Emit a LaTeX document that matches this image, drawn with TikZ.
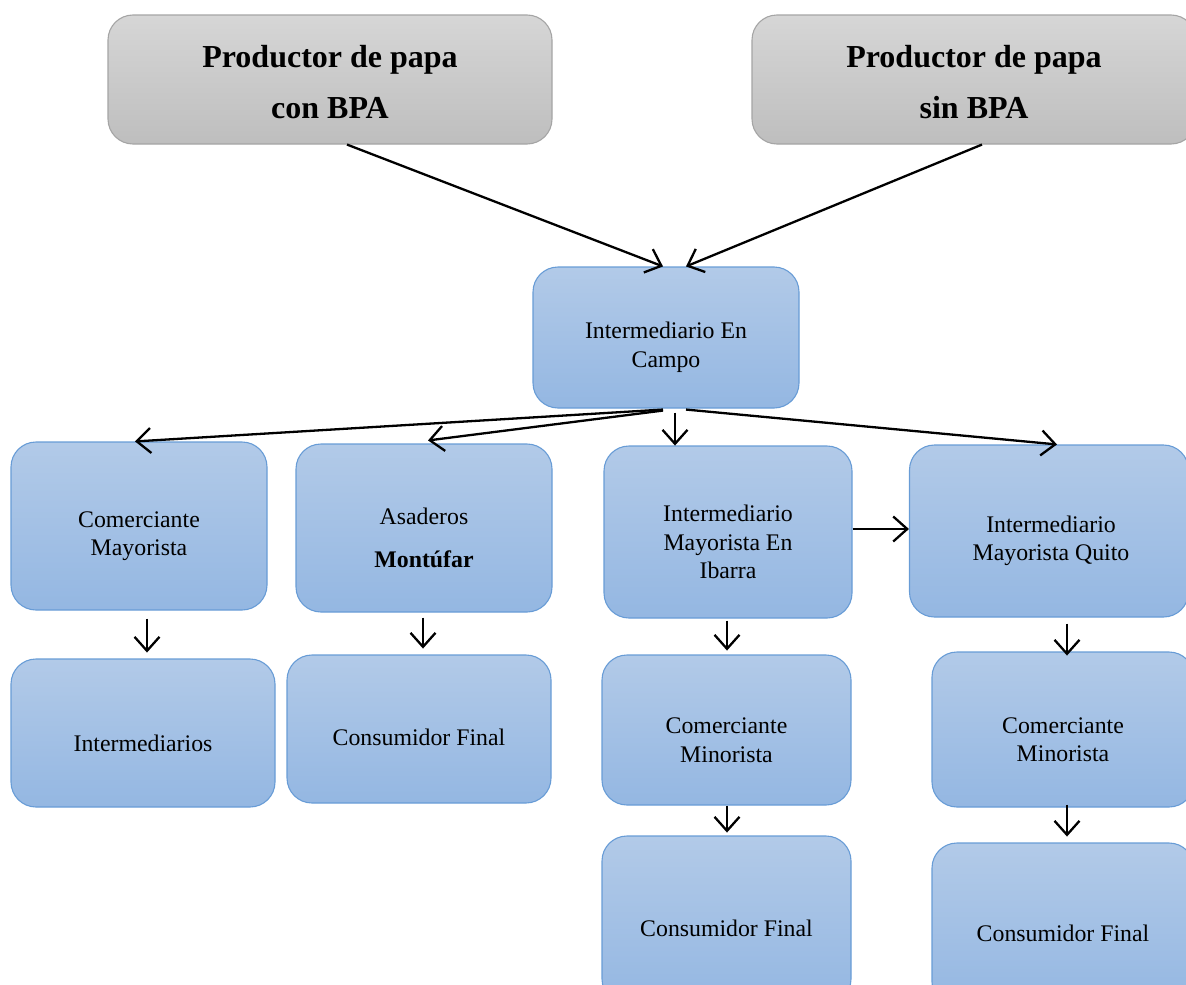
\documentclass[tikz,border=0pt]{standalone}
\usepackage{fontspec}
\setmainfont{Liberation Serif}
\usetikzlibrary{arrows.meta,calc}
\definecolor{bluetop}{RGB}{178,202,232}
\definecolor{bluebot}{RGB}{148,183,226}
\definecolor{blueline}{RGB}{104,156,214}
\definecolor{greytop}{RGB}{214,214,214}
\definecolor{greybot}{RGB}{190,190,190}
\definecolor{greyline}{RGB}{165,165,165}
\tikzset{
  bluebox/.style={draw=blueline, line width=1.1pt, rounded corners=25pt,
    top color=bluetop, bottom color=bluebot, inner sep=0pt},
  bluetext/.style={align=center, inner sep=0pt, yshift=-10pt,
    font=\fontsize{23.8pt}{28.5pt}\selectfont},
  greybox/.style={draw=greyline, line width=1.1pt, rounded corners=25pt,
    top color=greytop, bottom color=greybot, inner sep=0pt},
  greytext/.style={align=center, inner sep=0pt, yshift=-3pt,
    font=\fontsize{32pt}{51pt}\selectfont\bfseries},
  conn/.style={line width=2.3pt, -{Straight Barb[length=14pt,width=25pt,line width=2.3pt]}},
}
\begin{document}
\begin{tikzpicture}[x=1pt,y=-1pt]
\useasboundingbox (0,0) rectangle (1186,985);
% top producers
\node[greybox, minimum width=444pt, minimum height=129pt,
  label={[greytext]center:Productor de papa\\con BPA}] (g1) at (330,79.5) {};
\node[greybox, minimum width=444pt, minimum height=129pt,
  label={[greytext]center:Productor de papa\\sin BPA}] (g2) at (974,79.5) {};
% middle
\node[bluebox, minimum width=266pt, minimum height=141pt,
  label={[bluetext]center:Intermediario En\\Campo}] (campo) at (666,337.5) {};
% second row
\node[bluebox, minimum width=256pt, minimum height=168pt,
  label={[bluetext]center:Comerciante\\Mayorista}] (cmay) at (139,526) {};
\node[bluebox, minimum width=256pt, minimum height=168pt,
  label={[bluetext]center:Asaderos\\[14pt]\textbf{Montúfar}}] (asad) at (424,528) {};
\node[bluebox, minimum width=248pt, minimum height=172pt,
  label={[bluetext]center:Intermediario\\Mayorista En\\Ibarra}] (ibar) at (728,532) {};
\node[bluebox, minimum width=279pt, minimum height=172pt,
  label={[bluetext,xshift=2pt]center:Intermediario\\Mayorista Quito}] (quito) at (1049,531) {};
% third row
\node[bluebox, minimum width=264pt, minimum height=148pt,
  label={[bluetext]center:Intermediarios}] (inter) at (143,733) {};
\node[bluebox, minimum width=264pt, minimum height=148pt,
  label={[bluetext,yshift=2pt]center:Consumidor Final}] (cf1) at (419,729) {};
\node[bluebox, minimum width=249pt, minimum height=150pt,
  label={[bluetext]center:Comerciante\\Minorista}] (cmin1) at (726.5,730) {};
\node[bluebox, minimum width=262pt, minimum height=155pt,
  label={[bluetext]center:Comerciante\\Minorista}] (cmin2) at (1063,729.5) {};
% fourth row
\node[bluebox, minimum width=249pt, minimum height=168pt,
  label={[bluetext,yshift=2pt]center:Consumidor Final}] (cf2) at (726.5,920) {};
\node[bluebox, minimum width=262pt, minimum height=164pt,
  label={[bluetext,yshift=2pt]center:Consumidor Final}] (cf3) at (1063,925) {};
% connectors
\draw[conn] ($(g1.south)+(17,0)$) -- ($(campo.north)+(-3,0)$);
\draw[conn] ($(g2.south)+(8,0)$) -- ($(campo.north)+(20,0)$);
\draw[conn] ($(campo.south)+(-3,1)$) -- ($(cmay.north)+(-4,0)$);
\draw[conn] ($(campo.south)+(-3,2)$) -- ($(asad.north)+(4,-3)$);
\draw[conn] ($(campo.south)+(9,4)$) -- ($(campo.south)+(9,37)$);
\draw[conn] ($(campo.south)+(20,1)$) -- ($(quito.north)+(8,0)$);
\draw[conn] ($(ibar.east)+(0,-3)$) -- ($(quito.west)+(0,-2)$);
\draw[conn] ($(cmay.south)+(8,8)$) -- ($(cmay.south)+(8,42)$);
\draw[conn] ($(asad.south)+(-1,5)$) -- ($(asad.south)+(-1,36)$);
\draw[conn] ($(ibar.south)+(-1,2)$) -- ($(ibar.south)+(-1,32)$);
\draw[conn] ($(cmin1.south)+(0.5,0)$) -- ($(cmin1.south)+(0.5,27)$);
\draw[conn] ($(quito.south)+(18,6)$) -- ($(quito.south)+(18,38)$);
\draw[conn] ($(cmin2.south)+(4,-3)$) -- ($(cmin2.south)+(4,29)$);
\end{tikzpicture}
\end{document}
